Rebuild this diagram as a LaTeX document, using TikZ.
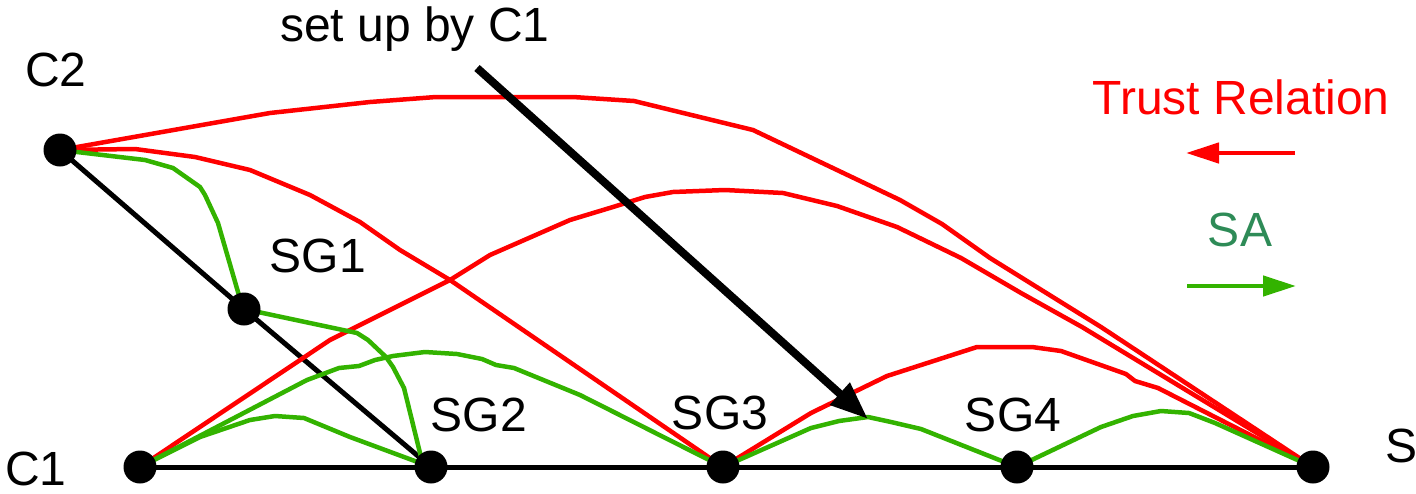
\documentclass[tikz,border=0pt]{standalone}
\usepackage{fontspec}
\setmainfont{Liberation Sans}
\usetikzlibrary{arrows.meta,backgrounds}
\definecolor{trustred}{RGB}{255,0,0}
\definecolor{sagreen}{RGB}{51,179,0}
\definecolor{satext}{RGB}{46,139,87}
\begin{document}
\begin{tikzpicture}[x=1pt,y=-1pt,
  dot/.style={circle,fill=black,inner sep=0pt,minimum size=33pt},
  lbl/.style={font=\fontsize{48}{56}\selectfont,inner sep=0pt},
  trust/.style={draw=trustred,line width=4.5pt,line join=round},
  sa/.style={draw=sagreen,line width=4.5pt,line join=round},
  blk/.style={draw=black,line width=5pt}]
\useasboundingbox (0,0) rectangle (1416,493);
% nodes
\node[dot] (C2) at (60,150) {};
\node[dot] (SG1) at (244,309) {};
\node[dot] (C1) at (140,467) {};
\node[dot] (SG2) at (431,467) {};
\node[dot] (SG3) at (723,467) {};
\node[dot] (SG4) at (1017,467) {};
\node[dot] (S) at (1313,467) {};
% labels
\node[lbl] (lC2) at (56,70) {C2};
\node[lbl] (lSG1) at (318,256) {SG1};
\node[lbl] (lSG2) at (479,415) {SG2};
\node[lbl] (lSG3) at (720,413) {SG3};
\node[lbl] (lSG4) at (1013,415) {SG4};
\node[lbl] (lS) at (1401,446) {S};
\node[lbl] (lC1) at (36,469) {C1};
\node[lbl] (setup) at (415,29) {set up by C1};
\node[lbl,text=trustred] (ltrust) at (1241,97) {Trust Relation};
\node[lbl,text=satext] (lsa) at (1240,230) {SA};
\coordinate (tA) at (1295,153);
\coordinate (tB) at (1186,153);
\coordinate (sA) at (1187,286);
\coordinate (sB) at (1296,286);
\coordinate (aS) at (477,68);
\coordinate (aE) at (868,419);
\begin{scope}[on background layer]
% black base lines
\draw[blk] (C1.center) -- (S.center);
\draw[blk] (C2.center) -- (SG1.center) -- (SG2.center);
% red trust relations
\draw[trust] (C2.center) -- (270,113) -- (370,102) -- (436,97) -- (573,97) -- (634,101)
  -- (753,130) -- (900,200) -- (942,224) -- (990,258) -- (1101,327) -- (S.center);
\draw[trust] (C1.center) -- (330,340) -- (450,280) -- (490,255) -- (570,220) -- (613,207)
  -- (645,197) -- (673,192) -- (725,190) -- (783,193) -- (837,206) -- (897,227)
  -- (961,258) -- (1021,293) -- (1082,327) -- (S.center);
\draw[trust] (C2.center) -- (135,149) -- (195,157) -- (250,170) -- (310,195)
  -- (360,222) -- (400,250) -- (450,280) -- (SG3.center);
\draw[trust] (SG3.center) -- (811,413) -- (887,376) -- (977,347) -- (1032,347)
  -- (1061,351) -- (1126,374) -- (1135,381) -- (1158,388) -- (S.center);
% green SAs
\draw[sa] (C2.center) -- (145,160) -- (173,168) -- (200,187) -- (205,195)
  -- (218,223) -- (238,292) -- (SG1.center);
\draw[sa] (SG1.center) -- (357,333) -- (368,340) -- (386,357) -- (393,367)
  -- (404,388) -- (421,457) -- (SG2.center);
\draw[sa] (C1.center) -- (200,437) -- (250,420) -- (275,416) -- (304,418)
  -- (350,437) -- (SG2.center);
\draw[sa] (C1.center) -- (307,380) -- (339,368) -- (359,366) -- (375,360) -- (393,356)
  -- (425,352) -- (457,354) -- (482,359) -- (496,365) -- (514,368) -- (580,395)
  -- (SG3.center);
\draw[sa] (SG3.center) -- (811,428) -- (839,421) -- (868,417) -- (891,422)
  -- (921,429) -- (SG4.center);
\draw[sa] (SG4.center) -- (1101,427) -- (1133,416) -- (1161,411) -- (1189,413)
  -- (1215,423) -- (S.center);
\end{scope}
% thick arrow
\draw[line width=8pt,-{Triangle[length=38pt,width=28pt]}] (aS) -- (aE);
% legend
\draw[trustred,line width=4.5pt,-{Triangle[length=33pt,width=20pt]}] (tA) -- (tB);
\draw[sagreen,line width=4.5pt,-{Triangle[length=33pt,width=20pt]}] (sA) -- (sB);
\end{tikzpicture}
\end{document}
